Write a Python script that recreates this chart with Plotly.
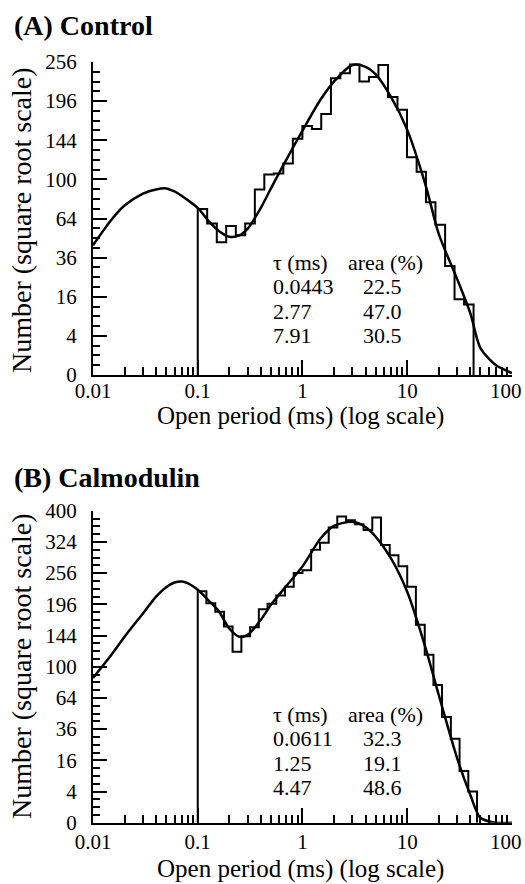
import numpy as np
import plotly.graph_objects as go

# ---------------- data ----------------
# Panel A: Control -- histogram bin edges (ms) and counts
edges_A = [0.100, 0.123, 0.152, 0.187, 0.231, 0.284, 0.351, 0.432, 0.532, 0.656,
           0.809, 0.998, 1.23, 1.51, 1.87, 2.30, 2.84, 3.50, 4.31, 5.31,
           6.55, 8.07, 9.95, 12.3, 15.1, 18.6, 23.0, 28.3, 34.9, 43.0]
counts_A = [72, 60, 46, 58, 51, 60, 90, 105, 106, 117,
            146, 162, 158, 178, 230, 238, 252, 225, 232, 251,
            202, 184, 124, 108, 78, 59, 31, 15, 13]

# Panel B: Calmodulin
edges_B = [0.100, 0.121, 0.147, 0.178, 0.215, 0.261, 0.316, 0.383, 0.464, 0.562,
           0.681, 0.825, 1.00, 1.21, 1.47, 1.78, 2.15, 2.61, 3.16, 3.83,
           4.64, 5.62, 6.81, 8.25, 10.0, 12.1, 14.7, 17.8, 21.5, 26.1,
           31.6, 38.3, 46.4]
counts_B = [220, 198, 183, 158, 120, 143, 157, 187, 197, 212,
            229, 256, 262, 306, 322, 358, 385, 376, 366, 352,
            383, 317, 294, 270, 229, 161, 116, 78, 46, 29,
            11, 4]

# fitted curves at these open periods (ms)
curve_x = [0.01, 0.015, 0.02, 0.03, 0.04, 0.05, 0.06, 0.07, 0.08, 0.1,
           0.13, 0.16, 0.2, 0.25, 0.3, 0.4, 0.5, 0.7, 1, 1.5,
           2, 3, 4, 5, 7, 10, 15, 20, 30, 40,
           50, 70, 100]
curve_A = [44, 63, 75, 86, 90, 91, 88, 84, 80, 73,
           61, 54, 50, 51, 56, 73, 91, 121, 156, 199,
           225, 251, 248, 236, 202, 157, 94, 52, 24, 10,
           1.9, 0.26, 0.01]
curve_B = [86, 116, 142, 180, 210, 228, 237, 239, 236, 223,
           201, 183, 155, 142, 145, 169, 195, 230, 270, 333,
           362, 372, 359, 336, 287, 219, 125, 67, 17, 3.2,
           0.1, 0.0, 0.0]

# fit parameters shown in the table
tau_A = ["0.0443", "2.77", "7.91"]
area_A = ["22.5", "47.0", "30.5"]
tau_B = ["0.0611", "1.25", "4.47"]
area_B = ["32.3", "19.1", "48.6"]

x_ticks = [0.01, 0.1, 1, 10, 100]
x_ticklabels = ["0.01", "0.1", "1", "10", "100"]
y_ticklabels_A = ["0", "4", "16", "36", "64", "100", "144", "196", "256"]
y_ticklabels_B = ["0", "4", "16", "36", "64", "100", "144", "196", "256", "324", "400"]

# ---------------- figure ----------------
W, H = 525, 884
ML, MR = 93, 13
PW = W - ML - MR

def px(xp):
    return (xp - ML) / PW

def py(yp):
    return 1 - yp / H

FONT = "Liberation Serif"
tickfont = dict(family=FONT, size=21, color="black")

def step_trace(edges, counts, xa, ya):
    xs = [edges[0]] + list(edges[:-1]) + [edges[-1], edges[-1]]
    ys = [0] + list(counts) + [counts[-1], 0]
    return go.Scatter(x=xs, y=np.sqrt(ys), mode="lines",
                      line=dict(shape="hv", color="black", width=2),
                      xaxis=xa, yaxis=ya, hoverinfo="skip")

def curve_trace(cx, cy, xa, ya):
    return go.Scatter(x=cx, y=np.sqrt(np.array(cy, dtype=float)), mode="lines",
                      line=dict(shape="spline", smoothing=0.8, color="black", width=2.5),
                      xaxis=xa, yaxis=ya, hoverinfo="skip")

fig = go.Figure()
fig.add_trace(step_trace(edges_A, counts_A, "x", "y"))
fig.add_trace(curve_trace(curve_x, curve_A, "x", "y"))
fig.add_trace(step_trace(edges_B, counts_B, "x2", "y2"))
fig.add_trace(curve_trace(curve_x, curve_B, "x2", "y2"))

minor_x = [m * 10.0 ** k for k in (-2, -1, 0, 1) for m in range(2, 10)]
# the last label ("100") sits at the right edge; it is drawn as an annotation
x_ticklabels_axis = x_ticklabels[:-1] + [""]

def xaxis_cfg(anchor, standoff):
    return dict(type="log", range=[-2, 2.0004], domain=[0, 1], anchor=anchor,
                tickmode="array", tickvals=x_ticks, ticktext=x_ticklabels_axis,
                ticks="inside", ticklen=15, tickwidth=2, tickcolor="black",
                showline=True, linewidth=2, linecolor="black",
                showgrid=False, zeroline=False, tickfont=tickfont,
                ticklabeloverflow="allow", ticklabelstandoff=standoff,
                minor=dict(tickmode="array", tickvals=minor_x, ticks="inside",
                           ticklen=8, tickwidth=2, tickcolor="black", showgrid=False))

def yaxis_cfg(anchor, labels, dom):
    n = len(labels)
    top = 2 * (n - 1)
    major = [2 * i for i in range(n)]
    minor = [v / 2 for v in range(0, 2 * top + 1) if (v / 2) % 2 != 0]
    return dict(range=[0, top], domain=dom, anchor=anchor,
                tickmode="array", tickvals=major, ticktext=labels,
                ticks="inside", ticklen=14, tickwidth=2, tickcolor="black",
                showline=True, linewidth=2, linecolor="black",
                showgrid=False, zeroline=False, tickfont=tickfont,
                ticklabelstandoff=10, ticklabeloverflow="allow",
                minor=dict(tickmode="array", tickvals=minor, ticks="inside",
                           ticklen=7, tickwidth=2, tickcolor="black", showgrid=False))

fig.update_layout(
    width=W, height=H,
    margin=dict(l=ML, r=MR, t=0, b=0, autoexpand=False),
    paper_bgcolor="white", plot_bgcolor="white",
    showlegend=False,
    xaxis=xaxis_cfg("y", -4),
    yaxis=yaxis_cfg("x", y_ticklabels_A, [py(375), py(62)]),
    xaxis2=xaxis_cfg("y2", -1),
    yaxis2=yaxis_cfg("x2", y_ticklabels_B, [py(822.7), py(510.7)]),
)

ann = []
def text(x, y, s, size=21, anchor="left", angle=0):
    ann.append(dict(x=px(x), y=py(y), xref="paper", yref="paper", text=s,
                    showarrow=False, xanchor=anchor, yanchor="middle",
                    textangle=angle, font=dict(family=FONT, size=size, color="black")))

# panel titles
text(12, 25, "<b>(A) Control</b>", size=28)
text(12, 477, "<b>(B) Calmodulin</b>", size=28)
# right-most x tick labels
text(523.5, 391, x_ticklabels[-1], size=21, anchor="right")
text(523.5, 842, x_ticklabels[-1], size=21, anchor="right")
# axis titles
text(300, 416, "Open period (ms) (log scale)", size=25, anchor="center")
text(300, 868.5, "Open period (ms) (log scale)", size=25, anchor="center")
text(21, 220, "Number (square root scale)", size=28, anchor="center", angle=-90)
text(21, 666, "Number (square root scale)", size=28, anchor="center", angle=-90)

# tables
def table(y0, taus, areas):
    text(271, y0, "τ (ms)", size=22)
    text(346, y0, "area (%)", size=22)
    for i, (t, a) in enumerate(zip(taus, areas)):
        yy = y0 + 24.5 * (i + 1)
        text(271, yy, t, size=22)
        text(361, yy, a, size=22)

table(262, tau_A, area_A)
table(714, tau_B, area_B)

fig.update_layout(annotations=ann)
fig.write_html("out.html", config={"displayModeBar": False})
